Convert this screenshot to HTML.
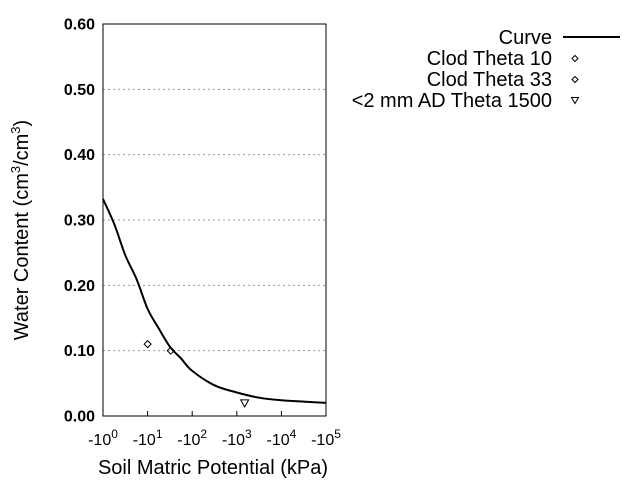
<!DOCTYPE html>
<html><head><meta charset="utf-8"><style>
body{margin:0;background:#fff}
svg{display:block;font-family:"Liberation Sans",Arial,sans-serif}
</style></head><body>
<svg id="chart" width="640" height="480" viewBox="0 0 640 480">
<g id="grid"></g>
<g id="yticks"></g>
<g id="xticks"></g>
<rect x="103" y="24" width="223" height="392" fill="none" stroke="#000" stroke-width="1"/>
<path id="curve" fill="none" stroke="#000" stroke-width="2"/>
<g id="points"></g>
<text x="213" y="474" font-size="20" text-anchor="middle">Soil Matric Potential (kPa)</text>
<text transform="translate(28,230) rotate(-90)" font-size="20" text-anchor="middle">Water Content (cm<tspan font-size="13" dy="-8">3</tspan><tspan dy="8">/cm</tspan><tspan font-size="13" dy="-8">3</tspan><tspan dy="8">)</tspan></text>
<g font-size="20" text-anchor="end">
<g><text x="552" y="44">Curve</text><line x1="563" y1="37" x2="620" y2="37" stroke="#000" stroke-width="2"/></g>
<g><text x="552" y="65">Clod Theta 10</text><path d="M575 55.5 l3 3 l-3 3 l-3 -3z" fill="none" stroke="#000"/></g>
<g><text x="552" y="86">Clod Theta 33</text><path d="M575 76.5 l3 3 l-3 3 l-3 -3z" fill="none" stroke="#000"/></g>
<g><text x="552" y="107">&lt;2 mm AD Theta 1500</text><path d="M571.5 97.5 h7 l-3.5 6z" fill="none" stroke="#000"/></g>
</g>
</svg>
<script>
const yTicks=[0,0.1,0.2,0.3,0.4,0.5,0.6];
const yLabels=["0.00","0.10","0.20","0.30","0.40","0.50","0.60"];
const xDecades=[0,1,2,3,4,5];
const curveLogX=[0,0.25,0.5,0.75,1,1.25,1.5,1.75,2,2.5,3,3.5,4,4.5,5];
const curveY=[0.332,0.294,0.246,0.21,0.164,0.134,0.106,0.088,0.069,0.047,0.036,0.028,0.024,0.022,0.02];
const pointX=[10,33,1500];
const pointY=[0.11,0.10,0.02];
const pointShape=["diamond","diamond","triangle"];
const NS="http://www.w3.org/2000/svg";
const L=103,R=326,T=24,B=416;
const xs=l=>L+(l-0)/(5-0)*(R-L);
const ys=v=>B-(v/0.6)*(B-T);
function mk(t,a,p){const e=document.createElementNS(NS,t);for(const k in a)e.setAttribute(k,a[k]);p.appendChild(e);return e;}
const grid=document.getElementById('grid'),yt=document.getElementById('yticks'),xt=document.getElementById('xticks');
yTicks.forEach((v,i)=>{
 const y=ys(v);
 if(v>0&&v<0.6){const g=mk('line',{x1:L,x2:R,y1:y,y2:y,stroke:'#999','stroke-dasharray':'2,3'},grid);
 
 }
 const t=mk('text',{x:95,y:y+5.5,'font-size':16,'font-weight':'bold','text-anchor':'end'},yt);t.textContent=yLabels[i];
 
 
});
xDecades.forEach(d=>{
 const x=xs(d);
 const tk=mk('line',{x1:x,x2:x,y1:B,y2:B-5,stroke:'#000'},xt);
 
 
 const t=mk('text',{x:x,y:445,'font-size':16,'text-anchor':'middle'},xt);
 
 
 t.textContent='-10';const s=document.createElementNS(NS,'tspan');s.setAttribute('font-size','12');s.setAttribute('dy','-7');s.textContent=d;t.appendChild(s);
});
const P=curveLogX.map((l,i)=>[xs(l),ys(curveY[i])]);
let d='M'+P[0][0].toFixed(1)+' '+P[0][1].toFixed(1);
for(let i=0;i<P.length-1;i++){
 const p0=P[Math.max(0,i-1)],p1=P[i],p2=P[i+1],p3=P[Math.min(P.length-1,i+2)];
 const c1=[p1[0]+(p2[0]-p0[0])/6,p1[1]+(p2[1]-p0[1])/6],c2=[p2[0]-(p3[0]-p1[0])/6,p2[1]-(p3[1]-p1[1])/6];
 d+=` C${c1[0].toFixed(1)} ${c1[1].toFixed(1)} ${c2[0].toFixed(1)} ${c2[1].toFixed(1)} ${p2[0].toFixed(1)} ${p2[1].toFixed(1)}`;
}
document.getElementById('curve').setAttribute('d',d);
const pg=document.getElementById('points');
pointX.forEach((p,i)=>{
 const x=xs(Math.log10(p)),y=ys(pointY[i]);
 const dd=pointShape[i]=='diamond'?`M${x} ${y-3.5} l3.5 3.5 l-3.5 3.5 l-3.5 -3.5z`:`M${x-4} ${y-3} h8 l-4 7z`;
 const e=mk('path',{d:dd,fill:'none',stroke:'#000'},pg);
 
 
});
</script>
</body></html>
